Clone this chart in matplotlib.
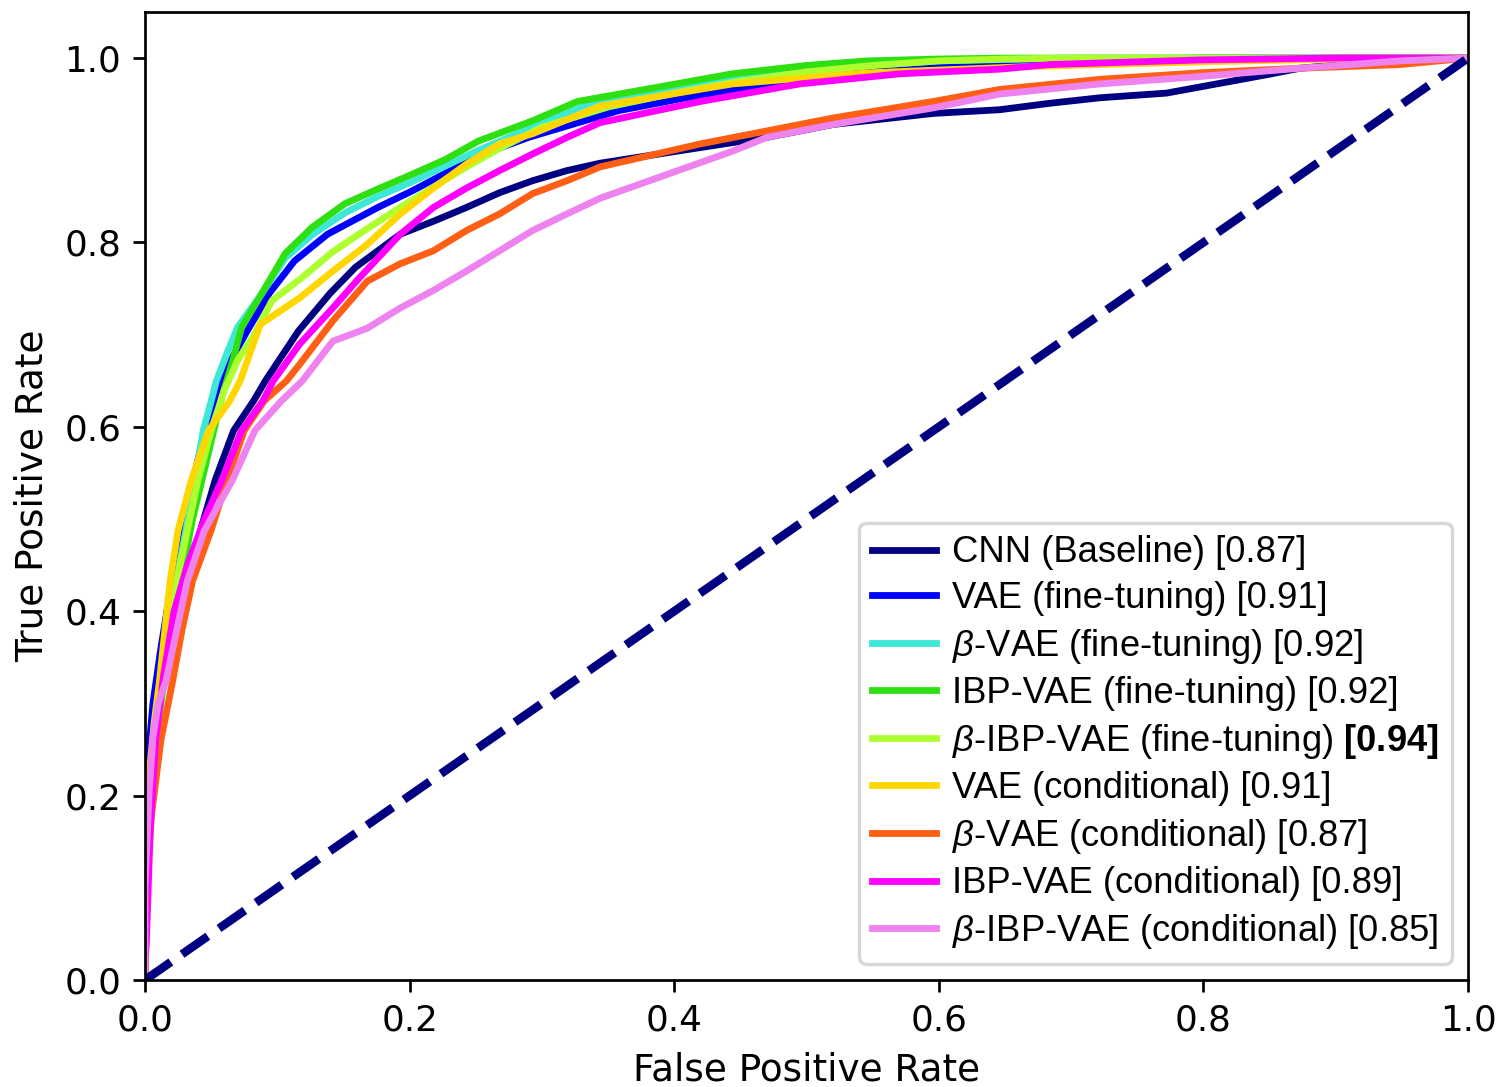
import numpy as np
import matplotlib
matplotlib.use("Agg")
import matplotlib.pyplot as plt

plt.rcParams['mathtext.fontset'] = 'custom'
plt.rcParams['mathtext.rm'] = 'Liberation Sans'
plt.rcParams['mathtext.it'] = 'Liberation Sans:italic'
plt.rcParams['mathtext.bf'] = 'Liberation Sans:bold'

# ROC curves (fpr, tpr)
cnn_fpr = [0, 0, 0.004, 0.010, 0.020, 0.032, 0.042, 0.053, 0.067, 0.082, 0.091, 0.116, 0.140, 0.159, 0.193,
           0.218, 0.243, 0.268, 0.293, 0.319, 0.344, 0.420, 0.470, 0.520, 0.596, 0.646, 0.684, 0.722, 0.772,
           0.810, 0.848, 0.873, 0.920, 0.960, 1.0]
cnn_tpr = [0, 0.10, 0.20, 0.30, 0.38, 0.44, 0.488, 0.542, 0.596, 0.628, 0.650, 0.704, 0.745, 0.773, 0.809,
           0.823, 0.838, 0.854, 0.867, 0.878, 0.886, 0.903, 0.914, 0.928, 0.940, 0.944, 0.951, 0.957, 0.962,
           0.972, 0.982, 0.989, 0.995, 0.999, 1.0]

vae_ft_fpr = [0, 0, 0.003, 0.006, 0.012, 0.020, 0.028, 0.036, 0.046, 0.056, 0.066, 0.076, 0.094, 0.113, 0.138,
              0.176, 0.202, 0.252, 0.290, 0.358, 0.42, 0.5, 0.6, 0.7, 0.8, 0.9, 1.0]
vae_ft_tpr = [0, 0.12, 0.25, 0.30, 0.36, 0.43, 0.49, 0.54, 0.60, 0.64, 0.675, 0.701, 0.745, 0.780, 0.809,
              0.838, 0.856, 0.894, 0.914, 0.943, 0.960, 0.978, 0.992, 0.998, 1.0, 1.0, 1.0]

bvae_ft_fpr = [0, 0, 0.004, 0.010, 0.018, 0.026, 0.035, 0.044, 0.050, 0.054, 0.062, 0.070, 0.088, 0.106, 0.126,
               0.151, 0.176, 0.202, 0.252, 0.293, 0.344, 0.40, 0.5, 0.6, 0.7, 0.8, 1.0]
bvae_ft_tpr = [0, 0.12, 0.22, 0.30, 0.38, 0.45, 0.52, 0.596, 0.628, 0.650, 0.680, 0.708, 0.744, 0.783, 0.808,
               0.832, 0.850, 0.866, 0.900, 0.925, 0.955, 0.968, 0.987, 0.997, 1.0, 1.0, 1.0]

ibp_ft_fpr = [0, 0, 0.005, 0.012, 0.020, 0.028, 0.036, 0.046, 0.058, 0.066, 0.073, 0.088, 0.106, 0.126, 0.151,
              0.176, 0.202, 0.227, 0.252, 0.293, 0.327, 0.378, 0.444, 0.5, 0.546, 0.6, 0.65, 1.0]
ibp_ft_tpr = [0, 0.10, 0.22, 0.30, 0.38, 0.44, 0.50, 0.56, 0.632, 0.67, 0.708, 0.744, 0.788, 0.816, 0.842,
              0.858, 0.874, 0.890, 0.910, 0.932, 0.953, 0.966, 0.983, 0.992, 0.997, 0.999, 1.0, 1.0]

bibp_ft_fpr = [0, 0, 0.004, 0.010, 0.017, 0.024, 0.032, 0.040, 0.050, 0.060, 0.070, 0.083, 0.096, 0.117, 0.142,
               0.168, 0.193, 0.218, 0.243, 0.268, 0.3, 0.35, 0.4, 0.45, 0.5, 0.55, 0.6, 0.65, 0.7, 1.0]
bibp_ft_tpr = [0, 0.12, 0.22, 0.30, 0.38, 0.433, 0.488, 0.542, 0.596, 0.640, 0.672, 0.701, 0.737, 0.760, 0.790,
               0.815, 0.838, 0.860, 0.882, 0.902, 0.925, 0.947, 0.962, 0.975, 0.985, 0.992, 0.997, 0.999, 1.0, 1.0]

vae_c_fpr = [0, 0, 0.003, 0.007, 0.011, 0.019, 0.025, 0.035, 0.048, 0.064, 0.072, 0.087, 0.117, 0.142, 0.168,
             0.193, 0.218, 0.243, 0.268, 0.293, 0.344, 0.444, 0.546, 0.671, 0.8, 0.9, 1.0]
vae_c_tpr = [0, 0.12, 0.22, 0.28, 0.325, 0.433, 0.488, 0.542, 0.596, 0.628, 0.650, 0.711, 0.740, 0.769, 0.798,
             0.831, 0.859, 0.885, 0.907, 0.918, 0.948, 0.972, 0.984, 0.991, 0.996, 0.999, 1.0]

bvae_c_fpr = [0, 0, 0.005, 0.012, 0.021, 0.028, 0.036, 0.050, 0.062, 0.075, 0.090, 0.107, 0.117, 0.142, 0.168,
              0.193, 0.218, 0.243, 0.268, 0.293, 0.319, 0.344, 0.420, 0.470, 0.520, 0.596, 0.646, 0.722, 0.797,
              0.873, 0.949, 1.0]
bvae_c_tpr = [0, 0.08, 0.18, 0.26, 0.325, 0.38, 0.433, 0.488, 0.542, 0.596, 0.628, 0.650, 0.668, 0.715, 0.758,
              0.777, 0.791, 0.813, 0.831, 0.853, 0.867, 0.882, 0.907, 0.921, 0.935, 0.953, 0.966, 0.977, 0.984,
              0.989, 0.993, 1.0]

ibp_c_fpr = [0, 0, 0.001, 0.004, 0.008, 0.014, 0.022, 0.032, 0.045, 0.058, 0.073, 0.089, 0.097, 0.117, 0.142,
             0.161, 0.193, 0.218, 0.243, 0.268, 0.293, 0.319, 0.344, 0.420, 0.495, 0.571, 0.646, 0.684, 0.797,
             0.898, 1.0]
ibp_c_tpr = [0, 0.02, 0.04, 0.166, 0.26, 0.33, 0.40, 0.45, 0.50, 0.542, 0.596, 0.628, 0.650, 0.690, 0.729,
             0.760, 0.809, 0.838, 0.859, 0.878, 0.896, 0.914, 0.930, 0.953, 0.972, 0.983, 0.988, 0.993, 0.998,
             1.0, 1.0]

bibp_c_fpr = [0, 0, 0.003, 0.006, 0.010, 0.016, 0.024, 0.032, 0.045, 0.066, 0.083, 0.103, 0.119, 0.142, 0.157,
              0.168, 0.193, 0.218, 0.243, 0.268, 0.293, 0.319, 0.344, 0.395, 0.444, 0.470, 0.520, 0.596, 0.646,
              0.722, 0.797, 0.873, 0.949, 1.0]
bibp_c_tpr = [0, 0.10, 0.20, 0.263, 0.30, 0.325, 0.38, 0.433, 0.488, 0.542, 0.596, 0.628, 0.650, 0.693, 0.701,
              0.707, 0.729, 0.748, 0.769, 0.791, 0.813, 0.831, 0.848, 0.874, 0.899, 0.914, 0.928, 0.946, 0.961,
              0.972, 0.980, 0.989, 0.997, 1.0]

labels = [
    'CNN (Baseline) [0.87]',
    'VAE (fine-tuning) [0.91]',
    r'$\beta$-VAE (fine-tuning) [0.92]',
    'IBP-VAE (fine-tuning) [0.92]',
    r'$\beta$-IBP-VAE (fine-tuning) $\mathbf{[0.94]}$',
    'VAE (conditional) [0.91]',
    r'$\beta$-VAE (conditional) [0.87]',
    'IBP-VAE (conditional) [0.89]',
    r'$\beta$-IBP-VAE (conditional) [0.85]',
]
colors = ['navy', 'blue', '#3ee8d8', '#2ee012', 'greenyellow', 'gold', '#ff5f15', 'magenta', 'violet']
curves = [(cnn_fpr, cnn_tpr), (vae_ft_fpr, vae_ft_tpr), (bvae_ft_fpr, bvae_ft_tpr),
          (ibp_ft_fpr, ibp_ft_tpr), (bibp_ft_fpr, bibp_ft_tpr), (vae_c_fpr, vae_c_tpr),
          (bvae_c_fpr, bvae_c_tpr), (ibp_c_fpr, ibp_c_tpr), (bibp_c_fpr, bibp_c_tpr)]

dpi = 245
fig = plt.figure(figsize=(1500 / dpi, 1087 / dpi), dpi=dpi)
ax = fig.add_axes([145 / 1500, 107 / 1087, 1323 / 1500, 968 / 1087])

for (fpr, tpr), c, lab in zip(curves, colors, labels):
    ax.plot(fpr, tpr, color=c, lw=2, label=lab)
ax.plot([0, 1], [0, 1], color='navy', lw=2.5, linestyle='--')

ax.set_xlim(0.0, 1.0)
ax.set_ylim(0.0, 1.05)
ax.tick_params(labelsize=10.5)
ax.set_xlabel('False Positive Rate', fontsize=11)
ax.set_ylabel('True Positive Rate', fontsize=11)
ax.legend(loc='lower right', prop={'family': 'Liberation Sans', 'size': 10.7},
          labelspacing=0.29, handlelength=1.75, handletextpad=0.45, borderaxespad=0.45,
          borderpad=0.35)

fig.savefig('out.png', dpi=dpi)
